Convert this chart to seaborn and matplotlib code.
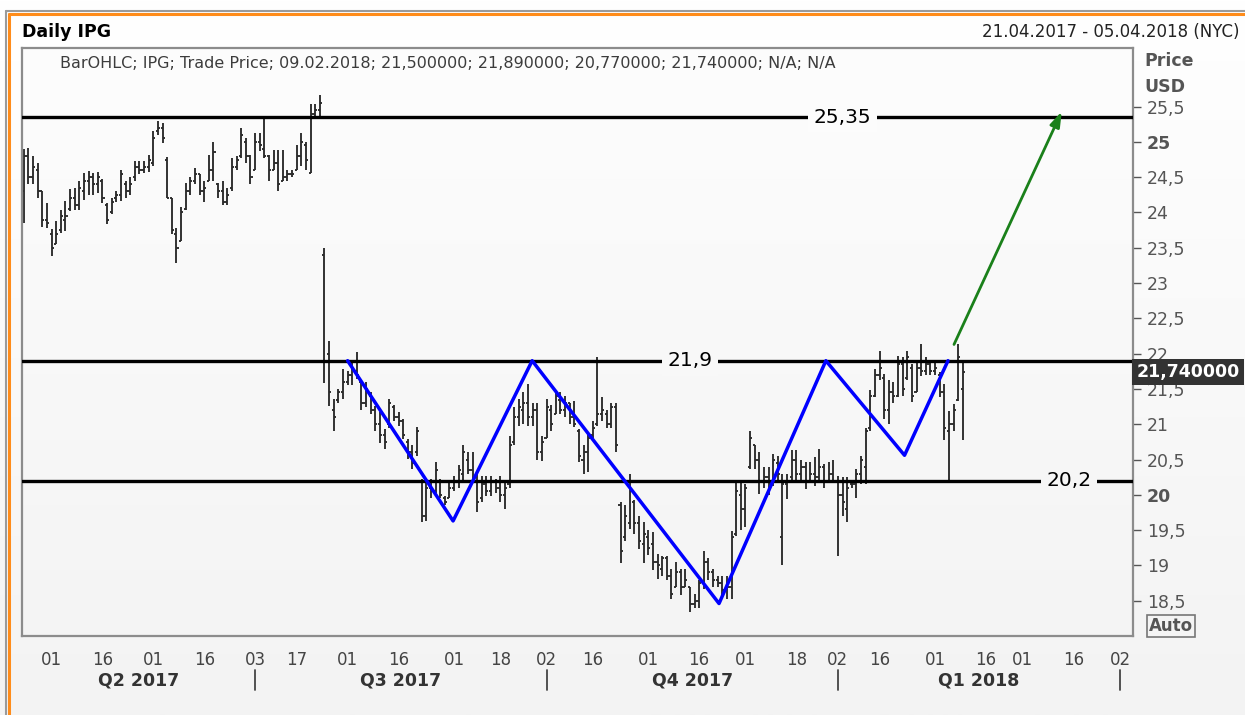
import numpy as np
import pandas as pd
import matplotlib
matplotlib.use("Agg")
import matplotlib.pyplot as plt
import matplotlib.transforms as mtransforms
from matplotlib.lines import Line2D
from matplotlib.colors import LinearSegmentedColormap
import seaborn as sns

# NYSE holidays inside the window
holidays = ["2017-05-29", "2017-07-04", "2017-09-04", "2017-11-23", "2017-12-25",
            "2018-01-01", "2018-01-15", "2018-02-19", "2018-03-30"]
days = pd.date_range("2017-04-21", "2018-04-05",
                     freq=pd.offsets.CustomBusinessDay(holidays=holidays))

# daily OHLC, 21.04.2017 - 09.02.2018
opens = [24.3, 24.8, 24.5, 24.6, 24.3, 23.9, 23.7, 23.55, 23.75, 23.9,
         24.05, 24.2, 24.1, 24.3, 24.45, 24.5, 24.4, 24.45, 24.1, 24.0,
         24.2, 24.25, 24.4, 24.3, 24.5, 24.65, 24.6, 24.65, 24.7, 25.15,
         25.2, 24.75, 24.2, 23.7, 23.6, 24.05, 24.3, 24.45, 24.55, 24.3,
         24.45, 24.6, 24.4, 24.3, 24.15, 24.35, 24.65, 24.8, 25.0, 24.8,
         24.6, 25.0, 24.9, 24.8, 24.6, 24.7, 24.45, 24.5, 24.55, 24.6,
         24.8, 24.95, 24.56, 25.4, 25.45,
         23.4, 22.0, 21.2, 21.35, 21.45, 21.6, 21.7, 21.75, 21.6, 21.3,
         21.4, 21.2, 21.0, 20.85, 21.0, 21.25, 21.1, 21.05, 20.75, 20.6,
         20.6, 20.2, 19.7, 20.1, 20.05, 20.2, 19.95, 19.95, 20.1, 20.2,
         20.3, 20.5, 20.35, 20.25, 19.95, 20.15, 20.05, 20.2, 20.1, 20.0,
         20.15, 20.75, 21.1, 21.2, 21.3, 21.1, 21.2, 20.6, 20.8, 21.2,
         21.15, 21.35, 21.2, 21.3,
         21.1, 20.9, 20.5, 20.6, 20.85, 21.0, 21.15, 21.15, 21.0, 21.25,
         19.85, 19.4, 19.6, 19.9, 19.6, 19.3, 19.4, 19.3, 19.05, 18.95,
         19.1, 18.85, 18.7, 18.9, 18.7, 18.7, 18.45, 18.5, 18.75, 19.05,
         18.9, 18.8, 18.75, 18.65, 18.7, 19.45, 20.0, 19.8, 20.4, 20.7,
         20.5, 20.2, 20.25, 20.15, 20.45,
         19.4, 20.15, 20.25, 20.5, 20.3, 20.4, 20.2, 20.3, 20.25, 20.4,
         20.2, 20.3, 20.2, 20.0, 19.8, 20.15, 20.15, 20.3, 20.4, 20.95,
         21.4, 21.7, 21.65, 21.2, 21.45, 21.4, 21.85, 21.65, 21.8, 21.45,
         21.8, 21.75, 21.85, 21.75, 21.7, 21.45, 20.9, 21.0, 21.35, 21.5]
highs = [24.9, 24.92, 24.8, 24.7, 24.3, 24.14, 23.76, 23.88, 24.04, 24.16,
         24.33, 24.35, 24.44, 24.56, 24.59, 24.56, 24.58, 24.47, 24.14, 24.2,
         24.3, 24.6, 24.44, 24.5, 24.73, 24.73, 24.73, 24.82, 25.15, 25.3,
         25.27, 24.78, 24.2, 23.78, 24.08, 24.42, 24.5, 24.63, 24.55, 24.45,
         24.82, 25.0, 24.42, 24.45, 24.35, 24.77, 24.8, 25.2, 25.05, 24.82,
         25.13, 25.13, 25.34, 24.82, 24.89, 24.89, 24.89, 24.6, 24.6, 24.95,
         25.13, 25.0, 25.53, 25.53, 25.67,
         23.5, 22.18, 21.36, 21.5, 21.78, 21.75, 21.88, 22.02, 21.6, 21.6,
         21.45, 21.26, 21.17, 20.93, 21.36, 21.27, 21.17, 21.07, 20.79, 20.7,
         20.96, 20.22, 20.22, 20.22, 20.46, 20.22, 19.99, 20.2, 20.27, 20.42,
         20.7, 20.6, 20.6, 20.32, 20.27, 20.27, 20.27, 20.22, 20.27, 20.18,
         20.84, 21.24, 21.36, 21.45, 21.57, 21.3, 21.3, 20.84, 21.36, 21.27,
         21.45, 21.45, 21.4, 21.3,
         21.33, 20.93, 20.7, 20.86, 21.05, 21.95, 21.38, 21.2, 21.3, 21.3,
         19.9, 19.85, 20.29, 19.92, 19.7, 19.61, 19.5, 19.47, 19.16, 19.14,
         19.14, 18.95, 19.05, 18.95, 18.95, 18.7, 18.6, 18.8, 19.21, 19.1,
         18.95, 18.85, 18.85, 18.85, 19.49, 20.18, 20.18, 20.15, 20.91, 20.7,
         20.6, 20.39, 20.4, 20.58, 20.55,
         20.3, 20.3, 20.63, 20.63, 20.5, 20.46, 20.46, 20.53, 20.65, 20.44,
         20.46, 20.5, 20.27, 20.25, 20.25, 20.2, 20.37, 20.55, 20.95, 21.48,
         21.78, 22.04, 21.71, 21.62, 21.6, 21.97, 21.95, 22.04, 21.85, 21.9,
         22.14, 21.95, 21.9, 21.9, 21.74, 21.57, 21.19, 21.29, 22.14, 21.89]
lows = [23.85, 24.4, 24.4, 24.2, 23.8, 23.78, 23.38, 23.55, 23.71, 23.74,
        24.02, 24.04, 24.04, 24.18, 24.25, 24.25, 24.27, 24.14, 23.83, 23.98,
        24.15, 24.16, 24.2, 24.25, 24.44, 24.55, 24.56, 24.58, 24.66, 25.1,
        24.99, 24.2, 23.7, 23.29, 23.6, 24.04, 24.25, 24.4, 24.25, 24.15,
        24.44, 24.44, 24.2, 24.1, 24.1, 24.3, 24.6, 24.77, 24.7, 24.4,
        24.6, 24.87, 24.77, 24.44, 24.6, 24.3, 24.44, 24.45, 24.5, 24.6,
        24.66, 24.6, 24.56, 25.35, 25.36,
        21.59, 21.26, 20.91, 21.3, 21.36, 21.55, 21.55, 21.64, 21.2, 21.25,
        21.15, 20.91, 20.74, 20.65, 20.95, 21.05, 20.98, 20.79, 20.51, 20.37,
        20.55, 19.61, 19.63, 19.95, 20.03, 19.95, 19.85, 19.95, 20.05, 20.09,
        20.18, 20.3, 20.18, 19.75, 19.9, 19.99, 19.99, 20.03, 19.9, 19.8,
        20.1, 20.7, 20.98, 21.0, 20.98, 20.98, 20.5, 20.48, 20.8, 20.9,
        21.14, 21.14, 21.1, 21.0,
        20.96, 20.46, 20.3, 20.32, 20.8, 20.98, 21.05, 20.95, 20.95, 20.6,
        19.04, 19.35, 19.52, 19.45, 19.23, 19.04, 19.15, 18.93, 18.81, 18.85,
        18.8, 18.52, 18.7, 18.58, 18.7, 18.34, 18.4, 18.4, 18.67, 18.8,
        18.7, 18.7, 18.55, 18.52, 18.52, 19.42, 19.5, 19.55, 20.37, 20.37,
        20.01, 20.1, 20.0, 20.13, 20.2,
        19.0, 19.94, 20.2, 20.2, 20.2, 20.08, 20.2, 20.13, 20.2, 20.1,
        20.2, 20.17, 19.14, 19.7, 19.61, 20.1, 19.96, 20.15, 20.15, 20.91,
        21.38, 21.62, 21.07, 21.0, 21.3, 21.38, 21.4, 21.62, 21.31, 21.45,
        21.69, 21.7, 21.7, 21.7, 21.38, 20.77, 20.2, 20.91, 21.33, 20.77]
closes = [24.8, 24.5, 24.65, 24.3, 23.9, 23.85, 23.5, 23.7, 23.95, 23.95,
          24.2, 24.1, 24.35, 24.45, 24.5, 24.4, 24.5, 24.2, 23.9, 24.15,
          24.25, 24.55, 24.3, 24.4, 24.65, 24.6, 24.65, 24.75, 25.05, 25.2,
          25.05, 24.2, 23.75, 23.5, 24.0, 24.3, 24.45, 24.55, 24.3, 24.35,
          24.6, 24.85, 24.3, 24.15, 24.25, 24.65, 24.75, 25.1, 24.8, 24.5,
          25.0, 24.95, 24.8, 24.6, 24.7, 24.4, 24.5, 24.55, 24.55, 24.8,
          25.0, 24.75, 25.4, 25.45, 25.55,
          21.9, 21.45, 21.1, 21.45, 21.6, 21.7, 21.8, 21.7, 21.3, 21.5,
          21.2, 21.0, 20.85, 20.75, 21.3, 21.1, 21.05, 20.85, 20.6, 20.45,
          20.9, 19.7, 20.1, 20.05, 20.35, 20.0, 19.9, 20.1, 20.2, 20.35,
          20.6, 20.35, 20.25, 19.9, 20.15, 20.05, 20.2, 20.1, 20.0, 20.1,
          20.7, 21.1, 21.25, 21.3, 21.1, 21.2, 20.6, 20.75, 21.25, 21.0,
          21.4, 21.2, 21.3, 21.1,
          21.0, 20.55, 20.6, 20.8, 20.95, 21.15, 21.2, 21.0, 21.25, 20.7,
          19.2, 19.7, 20.05, 19.6, 19.35, 19.45, 19.25, 19.05, 19.0, 19.1,
          18.85, 18.6, 18.9, 18.7, 18.8, 18.45, 18.5, 18.75, 19.05, 18.9,
          18.8, 18.75, 18.65, 18.7, 19.4, 20.05, 19.8, 20.1, 20.8, 20.5,
          20.2, 20.25, 20.15, 20.5, 20.3,
          20.15, 20.2, 20.5, 20.3, 20.4, 20.2, 20.3, 20.25, 20.4, 20.2,
          20.3, 20.2, 20.0, 19.9, 20.1, 20.15, 20.3, 20.5, 20.9, 21.4,
          21.7, 21.8, 21.2, 21.45, 21.4, 21.85, 21.5, 21.95, 21.4, 21.8,
          21.75, 21.85, 21.75, 21.8, 21.45, 20.95, 21.0, 21.2, 21.95, 21.74]

# support / resistance levels
levels = [25.35, 21.9, 20.2]
level_labels = ["25,35", "21,9", "20,2"]
level_label_dates = ["2018-01-03", "2017-11-14", "2018-03-15"]

# drawn zigzag pattern (trading-day position, price)
zig_pos = [70.0, 92.8, 109.9, 150.3, 173.4, 190.4, 199.8]
zig_price = [21.9, 19.63, 21.9, 18.46, 21.9, 20.56, 21.9]

# target arrow
arrow_pos = [201.1, 224.4]
arrow_price = [22.13, 25.43]

yticks = [18.5, 19, 19.5, 20, 20.5, 21, 21.5, 22, 22.5, 23, 23.5, 24, 24.5, 25, 25.5]
xtick_dates = ["2017-05-01", "2017-05-16", "2017-06-01", "2017-06-16", "2017-07-03",
               "2017-07-17", "2017-08-01", "2017-08-16", "2017-09-01", "2017-09-18",
               "2017-10-02", "2017-10-16", "2017-11-01", "2017-11-16", "2017-12-01",
               "2017-12-18", "2018-01-02", "2018-01-16", "2018-02-01", "2018-02-16",
               "2018-03-01", "2018-03-16", "2018-04-02"]
quarter_names = ["Q2 2017", "Q3 2017", "Q4 2017", "Q1 2018"]
quarter_starts = ["2017-07-03", "2017-10-02", "2018-01-02", "2018-04-02"]

last_close = 21.74

sns.set_style("white")
plt.rcParams["font.family"] = ["DejaVu Sans"]

W, H = 1245, 715
XLIM = (-0.4, 239.8)
YLIM = (18.0, 26.33)

fig = plt.figure(figsize=(W / 100, H / 100), dpi=100, facecolor="#f6f6f6")

# soft vertical gradient behind everything
bg = fig.add_axes([0, 0, 1, 1], zorder=-10)
bg.imshow(np.linspace(0, 1, 256).reshape(-1, 1), aspect="auto", extent=[0, 1, 0, 1],
          cmap=LinearSegmentedColormap.from_list("bgf", ["#f3f3f3", "#ffffff"]), origin="lower")
bg.set_axis_off()

ax = fig.add_axes([22 / W, 1 - 636 / H, (1133 - 22) / W, (636 - 48) / H])
plot_cmap = LinearSegmentedColormap.from_list("bga", ["#f4f4f4", "#fdfdfd"])
ax.imshow(np.linspace(0, 1, 256).reshape(-1, 1), aspect="auto",
          extent=[XLIM[0], XLIM[1], YLIM[0], YLIM[1]], origin="lower", zorder=0,
          cmap=plot_cmap)

pos = lambda d: days.get_loc(pd.Timestamp(d))

# OHLC bars
x = np.arange(len(closes))
bar_col = "#2b2b2b"
ax.vlines(x, lows, highs, color=bar_col, lw=1.35, zorder=2)
ax.hlines(opens, x - 0.45, x, color=bar_col, lw=1.35, zorder=2)
ax.hlines(closes, x, x + 0.45, color=bar_col, lw=1.35, zorder=2)

# horizontal levels with labels (label box takes the local background colour)
for lvl, lab, d in zip(levels, level_labels, level_label_dates):
    ax.axhline(lvl, color="black", lw=2.4, zorder=3)
    shade = plot_cmap((lvl - YLIM[0]) / (YLIM[1] - YLIM[0]))
    ax.text(pos(d), lvl, lab, ha="center", va="center", fontsize=14.5, color="black",
            zorder=4, bbox=dict(fc=shade, ec="none", pad=4))

# zigzag
sns.lineplot(x=zig_pos, y=zig_price, sort=False, color="#0000ff", lw=2.5, ax=ax, zorder=5)

# arrow
ax.annotate("", xy=(arrow_pos[1], arrow_price[1]), xytext=(arrow_pos[0], arrow_price[0]),
            arrowprops=dict(arrowstyle="-|>,head_length=0.9,head_width=0.3",
                            color="#1a801a", lw=2.0, shrinkA=0, shrinkB=0), zorder=6)

ax.set_xlim(*XLIM)
ax.set_ylim(*YLIM)

# axes styling
for s in ax.spines.values():
    s.set_color("#8c8c8c")
    s.set_linewidth(1.6)

ax.yaxis.tick_right()
ax.set_yticks(yticks)
ax.set_yticklabels([f"{v:g}".replace(".", ",") for v in yticks])
for lab, v in zip(ax.get_yticklabels(), yticks):
    if v in (20, 25):
        lab.set_fontweight("bold")
ax.tick_params(axis="y", direction="out", length=6, width=1, color="#555555",
               labelsize=12.5, labelcolor="#555555", pad=4)

ax.set_xticks([pos(d) for d in xtick_dates])
ax.set_xticklabels([pd.Timestamp(d).strftime("%d") for d in xtick_dates])
ax.tick_params(axis="x", direction="out", length=4, width=1, color="#555555",
               labelsize=12, labelcolor="#444444", pad=7)
ax.set_xlabel("")
ax.set_ylabel("")

# quarter labels and separators under the axis
trans = mtransforms.blended_transform_factory(ax.transData, ax.transAxes)
bounds = [XLIM[0]] + [pos(d) for d in quarter_starts]
for i, name in enumerate(quarter_names):
    ax.text((bounds[i] + bounds[i + 1]) / 2, -0.075, name, transform=trans,
            ha="center", va="center", fontsize=12.5, fontweight="bold", color="#333333")
for b in bounds[1:]:
    ax.plot([b, b], [-0.057, -0.092], transform=trans, color="#444444", lw=1.3, clip_on=False)

# last price tag
ax.text(1.003, last_close, "21,740000", transform=mtransforms.blended_transform_factory(
        ax.transAxes, ax.transData), ha="left", va="center", fontsize=12.5,
        fontweight="bold", color="white", bbox=dict(fc="#333333", ec="none", pad=3))

# header texts
fig.text(22 / W, 1 - 32 / H, "Daily IPG", fontsize=12.5, fontweight="bold", va="center",
         color="black")
fig.text(1240 / W, 1 - 32 / H, "21.04.2017 - 05.04.2018 (NYC)", fontsize=12, ha="right",
         va="center", color="#222222")
fig.text(60 / W, 1 - 64 / H,
         "BarOHLC; IPG; Trade Price; 09.02.2018; 21,500000; 21,890000; 20,770000; 21,740000; N/A; N/A",
         fontsize=11.5, va="center", color="#3c3c3c")
fig.text(1144 / W, 1 - 61 / H, "Price", fontsize=12.5, fontweight="bold", va="center",
         color="#555555")
fig.text(1144 / W, 1 - 87 / H, "USD", fontsize=12.5, fontweight="bold", va="center",
         color="#555555")
fig.text(1171 / W, 1 - 626 / H, "Auto", fontsize=12, fontweight="bold", ha="center",
         va="center", color="#555555",
         bbox=dict(fc="none", ec="#777777", lw=1.2, pad=1.5))

# outer frame
fig.add_artist(Line2D([6 / W, 1], [1 - 11 / H, 1 - 11 / H], color="#9a9a9a", lw=1.5))
fig.add_artist(Line2D([6 / W, 6 / W], [0, 1 - 11 / H], color="#9a9a9a", lw=1.5))
fig.add_artist(Line2D([9 / W, 1], [1 - 14 / H, 1 - 14 / H], color="#ff8c1a", lw=2.2))
fig.add_artist(Line2D([9 / W, 9 / W], [0, 1 - 14 / H], color="#ff8c1a", lw=2.2))

fig.savefig("out.png", dpi=100, facecolor=fig.get_facecolor())
